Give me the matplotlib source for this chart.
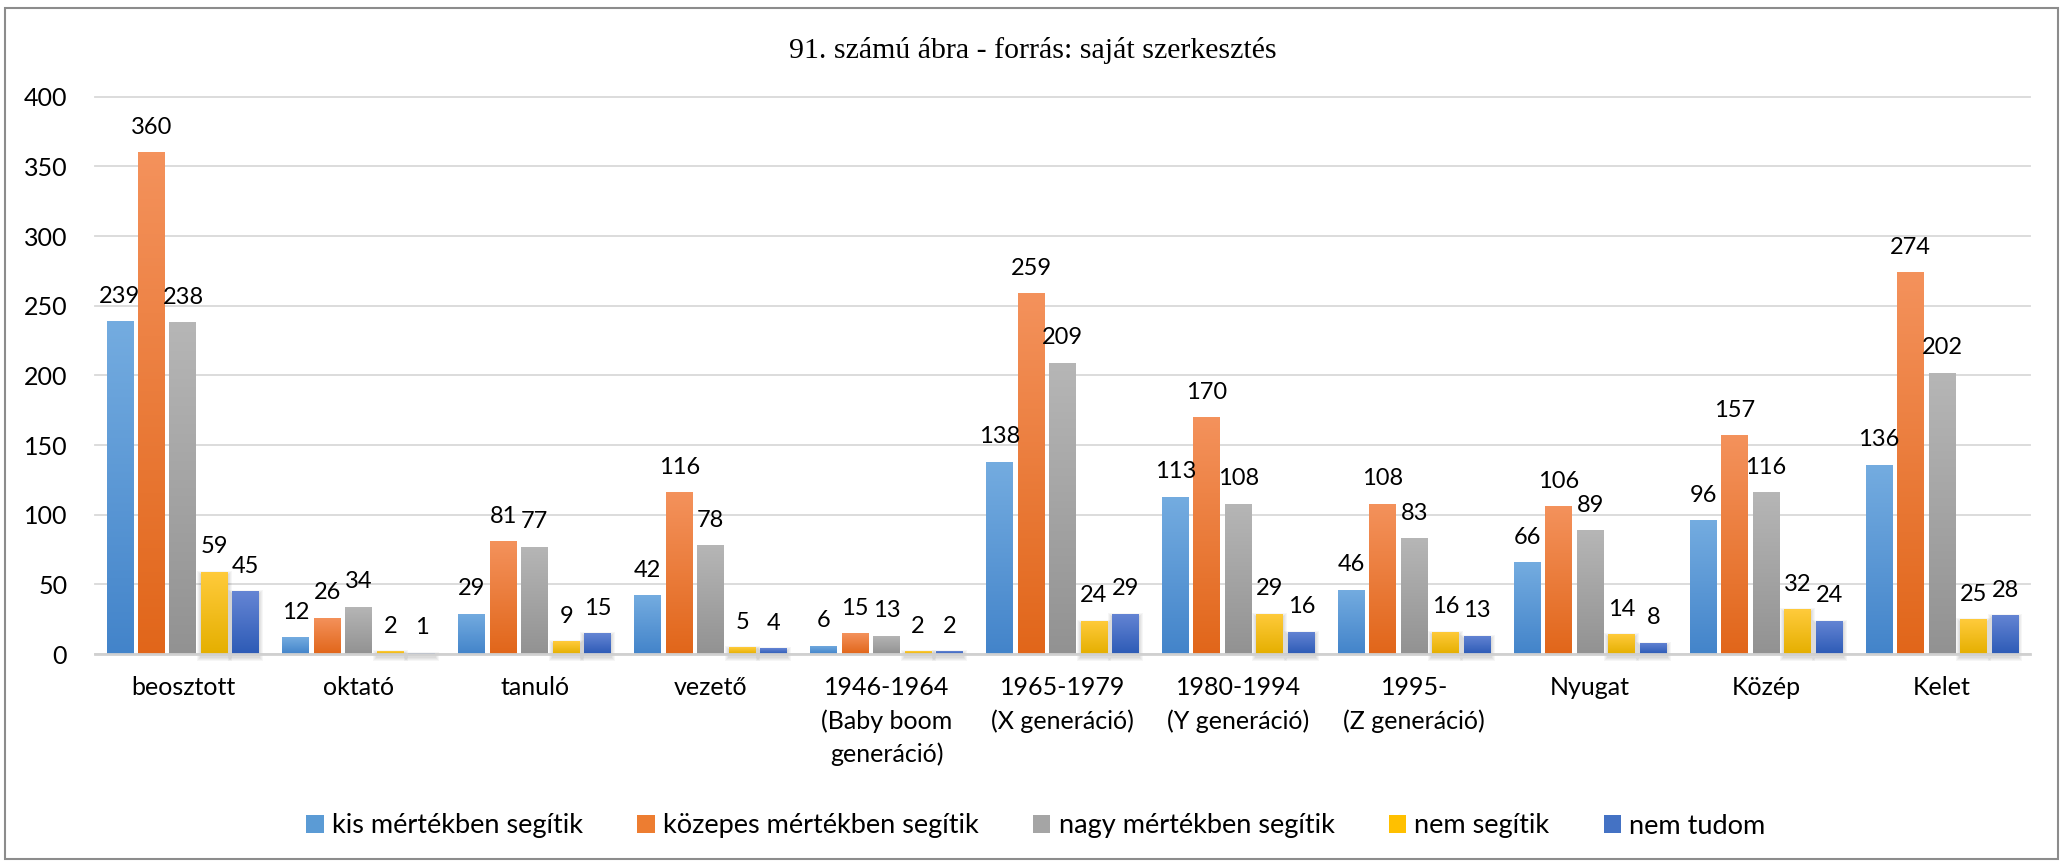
import numpy as np
import matplotlib
matplotlib.use("Agg")
import matplotlib.pyplot as plt
from matplotlib.colors import LinearSegmentedColormap
from matplotlib.patches import Rectangle

# Categories on the x axis
categories = ["beosztott", "oktató", "tanuló", "vezető",
              "1946-1964\n(Baby boom\ngeneráció)", "1965-1979\n(X generáció)",
              "1980-1994\n(Y generáció)", "1995-\n(Z generáció)",
              "Nyugat", "Közép", "Kelet"]

# Answer series
series_names = ["kis mértékben segítik", "közepes mértékben segítik",
                "nagy mértékben segítik", "nem segítik", "nem tudom"]
kis = [239, 12, 29, 42, 6, 138, 113, 46, 66, 96, 136]
kozepes = [360, 26, 81, 116, 15, 259, 170, 108, 106, 157, 274]
nagy = [238, 34, 77, 78, 13, 209, 108, 83, 89, 116, 202]
nem_segitik = [59, 2, 9, 5, 2, 24, 29, 16, 14, 32, 25]
nem_tudom = [45, 1, 15, 4, 2, 29, 16, 13, 8, 24, 28]

title = "91. számú ábra - forrás: saját szerkesztés"

# (top, bottom) gradient colours per series, plus the flat legend colour
colors = [("#74ACE0", "#4384CA", "#5B9BD5"),
          ("#F4925C", "#E1661A", "#ED7D31"),
          ("#B6B6B6", "#929292", "#A5A5A5"),
          ("#FFCB3C", "#E5AF00", "#FFC000"),
          ("#6585D4", "#2D5BB6", "#4472C4")]

W, H = 2065, 861
plt.rcParams["font.family"] = ["Lato", "DejaVu Sans"]

fig = plt.figure(figsize=(W / 100, H / 100), dpi=100)
ax = fig.add_axes([95 / W, 1 - 654 / H, (2030 - 95) / W, (654 - 96.7) / H])

x = np.arange(len(categories))
step = 0.179
width = 0.153
data = [kis, kozepes, nagy, nem_segitik, nem_tudom]

px_x = 1 / 175.9            # data units per pixel, x
px_y = 400 / 557.3          # data units per pixel, y

grad = np.linspace(0, 1, 128).reshape(-1, 1)
for j, vals in enumerate(data):
    top, bottom, flat = colors[j]
    cmap = LinearSegmentedColormap.from_list("g%d" % j, [bottom, top])
    xs = x + (j - 2) * step
    bars = ax.bar(xs, vals, width, color=flat, label=series_names[j], zorder=2)
    for b, xc, v in zip(bars, xs, vals):
        im = ax.imshow(grad, extent=[xc - width / 2, xc + width / 2, 0, v],
                       origin="lower", aspect="auto", cmap=cmap, zorder=2.1)
        im.set_clip_path(b)
        # soft drop shadow on the last two series
        if j >= 3:
            for k in range(1, 5):
                r = Rectangle((xc - width / 2 - k * px_x, -(3 + k) * px_y),
                              width + 2 * k * px_x, v + (2 * k) * px_y,
                              color="black", alpha=0.035, lw=0, zorder=1.9,
                              clip_on=False)
                ax.add_patch(r)
        ax.annotate(str(v), (xc, v), xytext=(0, 13.3), textcoords="offset points",
                    ha="center", va="baseline", fontsize=17, color="black",
                    zorder=3)

ax.set_xlim(-0.5, len(categories) - 0.5)
ax.set_ylim(0, 400)
ax.set_yticks(range(0, 401, 50))
ax.set_xticks(x)
ax.set_xticklabels(categories, fontsize=18, linespacing=1.5)
ax.tick_params(axis="y", length=0, pad=20, labelsize=18)
ax.tick_params(axis="x", length=0, pad=16)

ax.yaxis.grid(True, color="#D9D9D9", lw=1.3, zorder=0)
for gl in ax.get_ygridlines():
    gl.set_clip_on(False)
ax.set_axisbelow(True)
for s in ["top", "right", "left"]:
    ax.spines[s].set_visible(False)
ax.spines["bottom"].set_color("#D0D0D0")
ax.spines["bottom"].set_linewidth(2)
ax.spines["bottom"].set_zorder(2.5)

fig.text(0.5, 1 - 58 / H, title, family="Liberation Serif", fontsize=21.5,
         ha="center", va="baseline")

ax.legend(ncol=5, loc="center", bbox_to_anchor=(1036 / W, 1 - 826 / H),
          bbox_transform=fig.transFigure, frameon=False, fontsize=19.5,
          handlelength=0.65, handleheight=0.65, handletextpad=0.3,
          columnspacing=2.0)

# outer chart frame
fig.patches.append(Rectangle((5 / W, 1 - 859 / H), (2058 - 5) / W, (859 - 8) / H,
                             transform=fig.transFigure, fill=False,
                             ec="#8C8C8C", lw=1.5))

fig.savefig("out.png", dpi=100)
